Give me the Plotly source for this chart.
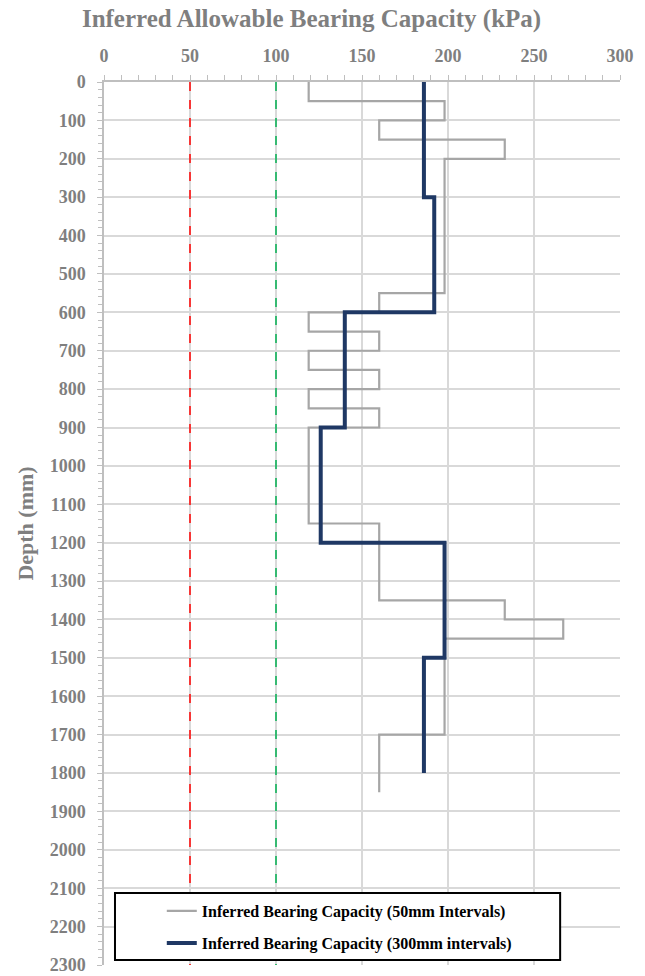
import plotly.graph_objects as go

# Allowable bearing capacity (kPa) per 50 mm interval, starting at 0 mm depth
cap_50mm = [119, 198, 160, 233, 198, 198, 198, 198, 198, 198, 198, 160,
            119, 160, 119, 160, 119, 160, 119, 119, 119, 119, 119, 160,
            160, 160, 160, 233, 267, 198, 198, 198, 198, 198, 160, 160, 160]
# Allowable bearing capacity (kPa) per 300 mm interval
cap_300mm = [186, 192, 140, 126, 198, 186]

# Reference limits (kPa)
limit_red = 50
limit_green = 100

x_ticks = [0, 50, 100, 150, 200, 250, 300]
y_ticks = list(range(0, 2301, 100))


def step_profile(values, interval):
    """Top-of-interval depths plus a closing point at the base of the last interval."""
    depths = [i * interval for i in range(len(values))] + [len(values) * interval]
    vals = list(values) + [values[-1]]
    return vals, depths


x50, y50 = step_profile(cap_50mm, 50)
x300, y300 = step_profile(cap_300mm, 300)

serif = "Liberation Serif, Times New Roman, serif"
grey_txt = "#7f7f7f"
legend_font = dict(family=serif, size=16, color="black", weight="bold")

fig = go.Figure()

fig.add_trace(go.Scatter(x=[limit_red, limit_red], y=[0, 2300], mode="lines",
                         line=dict(color="#ff0000", width=1.5, dash="dash"),
                         showlegend=False, hoverinfo="skip"))
fig.add_trace(go.Scatter(x=[limit_green, limit_green], y=[0, 2300], mode="lines",
                         line=dict(color="#00b050", width=1.5, dash="dash"),
                         showlegend=False, hoverinfo="skip"))

fig.add_trace(go.Scatter(x=x50, y=y50, mode="lines", line_shape="vh",
                         line=dict(color="#a6a6a6", width=2.2),
                         name="Inferred Bearing Capacity (50mm Intervals)",
                         legend="legend"))
fig.add_trace(go.Scatter(x=x300, y=y300, mode="lines", line_shape="vh",
                         line=dict(color="#1f3864", width=4),
                         name="Inferred Bearing Capacity (300mm intervals)",
                         legend="legend2"))

fig.update_xaxes(
    side="top", range=[0, 300], tickvals=x_ticks, ticktext=[str(v) for v in x_ticks],
    showgrid=True, gridcolor="#d9d9d9", gridwidth=1.5,
    showline=True, linecolor="#bfbfbf", linewidth=1.5,
    ticks="outside", ticklen=5, tickcolor="#bfbfbf",
    minor=dict(dtick=10, ticks="outside", ticklen=5, tickcolor="#bfbfbf", showgrid=False),
    tickfont=dict(family=serif, size=18, color=grey_txt, weight="bold"),
    ticklabelstandoff=6, ticklabeloverflow="allow", automargin=False,
    zeroline=False, fixedrange=True,
)
fig.update_yaxes(
    range=[2300, 0], tickvals=y_ticks, ticktext=[str(v) for v in y_ticks],
    showgrid=True, gridcolor="#d9d9d9", gridwidth=1.5,
    showline=True, linecolor="#bfbfbf", linewidth=1.5,
    ticks="outside", ticklen=5, tickcolor="#bfbfbf",
    minor=dict(dtick=20, ticks="outside", ticklen=4, tickcolor="#bfbfbf", showgrid=False),
    tickfont=dict(family=serif, size=18, color=grey_txt, weight="bold"),
    ticklabelstandoff=8, ticklabeloverflow="allow", automargin=False,
    title=dict(text="<b>Depth (mm)</b>", font=dict(family=serif, size=22, color=grey_txt),
               standoff=10),
    zeroline=False, fixedrange=True,
)

fig.update_layout(
    width=645, height=976,
    margin=dict(l=104, r=25, t=82, b=11, autoexpand=False),
    paper_bgcolor="white", plot_bgcolor="white",
    font=dict(family=serif, color=grey_txt),
    title=dict(text="<b>Inferred Allowable Bearing Capacity (kPa)</b>",
               font=dict(family=serif, size=25, color=grey_txt),
               x=0.483, xanchor="center", y=0.981, yanchor="middle"),
    legend=dict(x=0.112, y=0.0611, xanchor="left", yanchor="middle",
                bgcolor="rgba(0,0,0,0)", borderwidth=0, font=legend_font),
    legend2=dict(x=0.112, y=0.0249, xanchor="left", yanchor="middle",
                 bgcolor="rgba(0,0,0,0)", borderwidth=0, font=legend_font),
    shapes=[dict(type="rect", xref="paper", yref="paper",
                 x0=0.0213, x1=0.884, y0=0.0057, y1=0.0815,
                 line=dict(color="black", width=2), fillcolor="white", layer="above")],
)

fig.write_html("out.html")
